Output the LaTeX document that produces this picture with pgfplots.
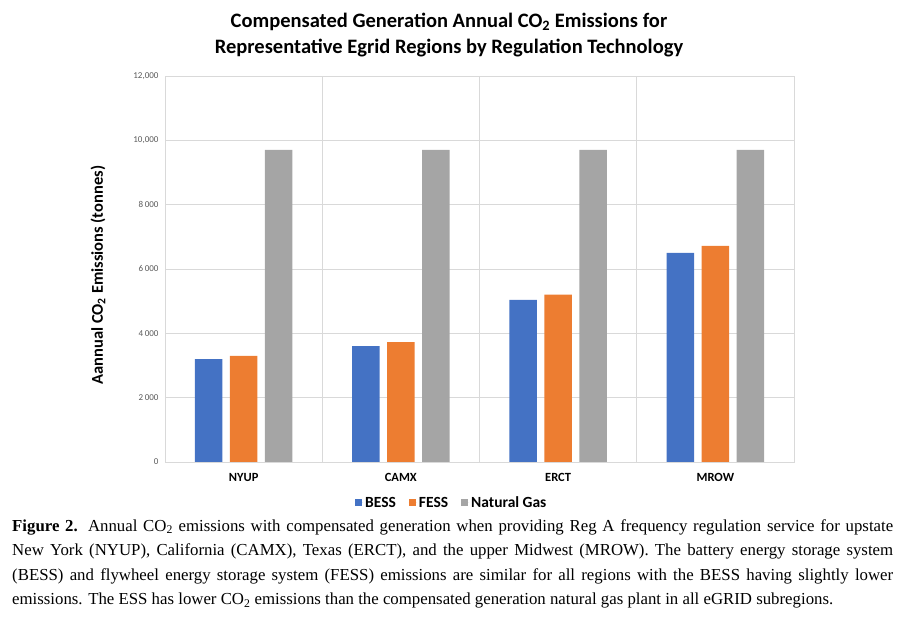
\documentclass[border=0pt]{standalone}
\usepackage{pgfplots}
\pgfplotsset{compat=1.18}
\usepackage{fontspec}
\setmainfont{Carlito}
\newfontfamily\capfont{Liberation Serif}
\definecolor{cblue}{HTML}{4472C4}
\definecolor{corange}{HTML}{ED7D31}
\definecolor{cgray}{HTML}{A5A5A5}
\definecolor{gridc}{HTML}{D9D9D9}
\definecolor{tickc}{HTML}{595959}
\newcommand{\legtxt}[1]{{\bfseries\fontsize{15.5}{17}\selectfont #1}}
\newcommand{\leggap}{\mbox{}\hspace{11pt}\mbox{}}
\begin{document}
\begin{tikzpicture}
\path[use as bounding box] (0pt,0pt) rectangle (905pt,620pt);
\begin{axis}[
  at={(165pt,158pt)}, anchor=south west,
  scale only axis, width=629pt, height=386pt,
  ybar=7.5pt, bar width=27.5pt,
  xmin=-0.5, xmax=3.5, ymin=0, ymax=12000,
  scaled y ticks=false,
  xtick={0,1,2,3}, xticklabels={NYUP,CAMX,ERCT,MROW},
  minor xtick={0.5,1.5,2.5},
  ytick={0,2000,4000,6000,8000,10000,12000},
  yticklabels={0,{2\,000},{4\,000},{6\,000},{8\,000},{10,000},{12,000}},
  ymajorgrids, xminorgrids,
  grid style={draw=gridc, line width=0.8pt},
  minor grid style={draw=gridc, line width=0.8pt},
  axis line style={draw=gridc, line width=0.8pt},
  major tick length=0pt, minor tick length=0pt,
  yticklabel style={font=\fontsize{9}{10}\selectfont, text=tickc, xshift=-3pt},
  xticklabel style={font=\bfseries\fontsize{12.5}{14}\selectfont, text=black, yshift=-8pt},
  ylabel={Aannual CO\textsubscript{2} Emissions (tonnes)},
  ylabel style={font=\bfseries\fontsize{16.5}{18}\selectfont, at={(axis description cs:-0.1065,0.484)}, anchor=center},
  legend style={at={(axis description cs:0.456,-0.106)}, anchor=center, draw=none,
    legend columns=-1},
  legend image code/.code={\draw[#1, draw=none] (0pt,-3.5pt) rectangle (7pt,3.5pt); \path (0pt,0pt) -- (8pt,0pt);},
]
\addplot[fill=cblue, draw=none] coordinates {(0,3200) (1,3600) (2,5040) (3,6500)};
\addplot[fill=corange, draw=none] coordinates {(0,3300) (1,3730) (2,5200) (3,6720)};
\addplot[fill=cgray, draw=none] coordinates {(0,9700) (1,9700) (2,9700) (3,9700)};
\legend{\legtxt{BESS\leggap},\legtxt{FESS\leggap},\legtxt{Natural Gas}}
\end{axis}
\node[align=center, font=\bfseries\fontsize{20.5}{26}\selectfont] at (449pt,585pt)
  {Compensated Generation Annual CO\textsubscript{2} Emissions for\\Representative Egrid Regions by Regulation Technology};
\node[anchor=north west, text width=881pt, align=justify, inner sep=0pt,
  font=\capfont\fontsize{16.8}{24.5}\selectfont] at (12pt,101pt)
  {\textbf{Figure 2.} Annual CO\textsubscript{2} emissions with compensated generation when providing Reg A frequency regulation service for upstate\linebreak
  New York (NYUP), California (CAMX), Texas (ERCT), and the upper Midwest (MROW). The battery energy storage system\linebreak
  (BESS) and flywheel energy storage system (FESS) emissions are similar for all regions with the BESS having slightly lower\linebreak
  emissions. The ESS has lower CO\textsubscript{2} emissions than the compensated generation natural gas plant in all eGRID subregions.};
\end{tikzpicture}
\end{document}
